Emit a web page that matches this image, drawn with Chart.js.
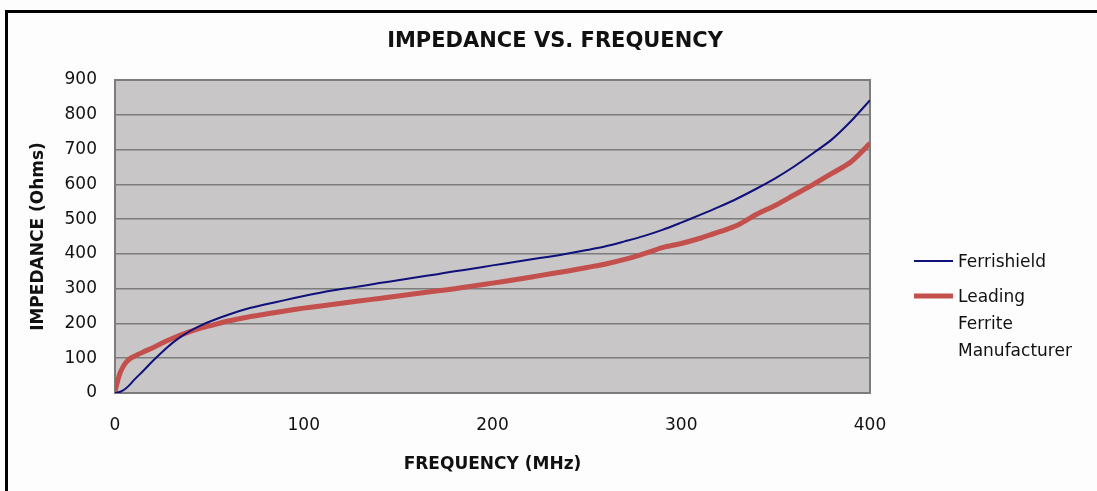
<!DOCTYPE html>
<html>
<head>
<meta charset="utf-8">
<title>Impedance vs. Frequency</title>
<script src="https://cdn.jsdelivr.net/npm/chart.js@4.4.1/dist/chart.umd.min.js"></script>
<style>
  html, body { margin: 0; padding: 0; background: #fdfdfd; }
  #wrap { position: relative; width: 1097px; height: 491px; overflow: hidden; }
  #frame {
    position: absolute; left: 5px; top: 10px; width: 1200px; height: 600px;
    border-top: 3px solid #000; border-left: 3px solid #000;
  }
  canvas { position: absolute; left: 0; top: 0; }
</style>
</head>
<body>
<div id="wrap">
  <div id="frame"></div>
  <canvas id="impedance-chart" width="1097" height="491"></canvas>
</div>
<script>
// Data
const frequencyMHz = [0, 2.5, 5, 7.5, 10, 15, 20, 25, 30, 35, 40, 45, 50, 60, 70, 80, 90, 100,
  110, 120, 130, 140, 150, 160, 170, 180, 190, 200, 210, 220, 230, 240, 250, 260, 270, 280,
  290, 300, 310, 320, 330, 340, 350, 360, 370, 380, 390, 400];

const ferrishieldOhms = [0, 3, 10, 22, 37, 64, 92, 118, 142, 162, 179, 193, 205, 225, 242, 255, 267, 279,
  290, 299, 307, 316, 324, 333, 341, 350, 358, 367, 375, 384, 392, 401, 411, 422, 436, 451,
  469, 490, 512, 535, 560, 588, 618, 652, 690, 730, 782, 842];

const leadingFerriteOhms = [5, 55, 82, 97, 105, 118, 130, 144, 156, 167, 177, 186, 193, 207, 218, 227, 236, 244,
  251, 258, 265, 272, 279, 286, 293, 300, 308, 316, 324, 333, 342, 351, 361, 371, 384, 400,
  418, 430, 445, 463, 483, 514, 540, 570, 600, 632, 665, 718];

const seriesNames = ['Ferrishield', 'Leading\nFerrite\nManufacturer'];
const chartTitle = 'IMPEDANCE VS. FREQUENCY';
const yTicks = [0, 100, 200, 300, 400, 500, 600, 700, 800, 900];
const xTicks = [0, 100, 200, 300, 400];

const COLORS = {
  navy: '#10107a',
  red: '#c4504d',
  plot: '#c8c6c6',
  grid: '#7c7c7c',
  text: '#111111'
};

const FONT = '"DejaVu Sans", sans-serif';

function toPoints(values) {
  return frequencyMHz.map((f, i) => ({ x: f, y: values[i] }));
}

// Grey plot background with a border all round
const plotAreaPlugin = {
  id: 'plotArea',
  beforeDraw(chart) {
    const { ctx, chartArea: a } = chart;
    ctx.save();
    ctx.fillStyle = COLORS.plot;
    ctx.fillRect(a.left, a.top, a.right - a.left, a.bottom - a.top);
    ctx.restore();
  },
  beforeDatasetsDraw(chart) {
    const { ctx, chartArea: a } = chart;
    ctx.save();
    ctx.strokeStyle = COLORS.grid;
    ctx.lineWidth = 2;
    ctx.strokeRect(a.left, a.top, a.right - a.left, a.bottom - a.top);
    ctx.restore();
  }
};

// Title (centred on the page, not on the plot) and the legend on the right
const decorPlugin = {
  id: 'decor',
  afterDraw(chart) {
    const { ctx } = chart;
    ctx.save();
    ctx.fillStyle = COLORS.text;
    ctx.textBaseline = 'middle';
    ctx.textAlign = 'center';
    ctx.font = 'bold 21px ' + FONT;
    ctx.fillText(chartTitle, 555, 42);

    const x0 = 914, lineLen = 39, textX = 958;
    const rowY = [261, 296];
    const lineH = 27;
    ctx.textAlign = 'left';
    ctx.font = '17px ' + FONT;
    chart.data.datasets.forEach((ds, i) => {
      ctx.strokeStyle = ds.borderColor;
      ctx.lineWidth = ds.borderWidth;
      ctx.lineCap = 'butt';
      ctx.beginPath();
      ctx.moveTo(x0, rowY[i]);
      ctx.lineTo(x0 + lineLen, rowY[i]);
      ctx.stroke();
      ds.label.split('\n').forEach((part, j) => {
        ctx.fillText(part, textX, rowY[i] + 2 + j * lineH);
      });
    });
    ctx.restore();
  }
};

const ctx = document.getElementById('impedance-chart');

new Chart(ctx, {
  type: 'line',
  data: {
    datasets: [
      {
        label: seriesNames[0],
        data: toPoints(ferrishieldOhms),
        borderColor: COLORS.navy,
        borderWidth: 2,
        pointRadius: 0,
        tension: 0.3,
        order: 1
      },
      {
        label: seriesNames[1],
        data: toPoints(leadingFerriteOhms),
        borderColor: COLORS.red,
        borderWidth: 5,
        pointRadius: 0,
        tension: 0.3,
        order: 2
      }
    ]
  },
  options: {
    responsive: false,
    animation: false,
    layout: {
      padding: { left: 8, right: 227, top: 80, bottom: 0 }
    },
    plugins: {
      legend: { display: false },
      tooltip: { enabled: false },
      title: { display: false }
    },
    scales: {
      x: {
        type: 'linear',
        min: 0,
        max: 400,
        afterBuildTicks(scale) {
          scale.ticks = xTicks.map(v => ({ value: v }));
        },
        afterFit(scale) {
          scale.height = 98;
        },
        grid: { display: false, drawTicks: false },
        border: { display: false },
        ticks: {
          color: COLORS.text,
          padding: 22,
          maxRotation: 0,
          font: { family: FONT, size: 17 }
        },
        title: {
          display: true,
          text: 'FREQUENCY (MHz)',
          color: COLORS.text,
          font: { family: FONT, size: 17, weight: 'bold' },
          padding: { top: 0, bottom: 16 }
        }
      },
      y: {
        type: 'linear',
        min: 0,
        max: 900,
        afterBuildTicks(scale) {
          scale.ticks = yTicks.map(v => ({ value: v }));
        },
        afterFit(scale) {
          scale.width = 107;
        },
        grid: {
          color: COLORS.grid,
          lineWidth: 1.5,
          drawTicks: false
        },
        border: { display: false },
        ticks: {
          color: COLORS.text,
          padding: 18,
          font: { family: FONT, size: 17 }
        },
        title: {
          display: true,
          text: 'IMPEDANCE (Ohms)',
          color: COLORS.text,
          font: { family: FONT, size: 17, weight: 'bold' },
          padding: { top: 20, bottom: 0 }
        }
      }
    }
  },
  plugins: [plotAreaPlugin, decorPlugin]
});
</script>
</body>
</html>
